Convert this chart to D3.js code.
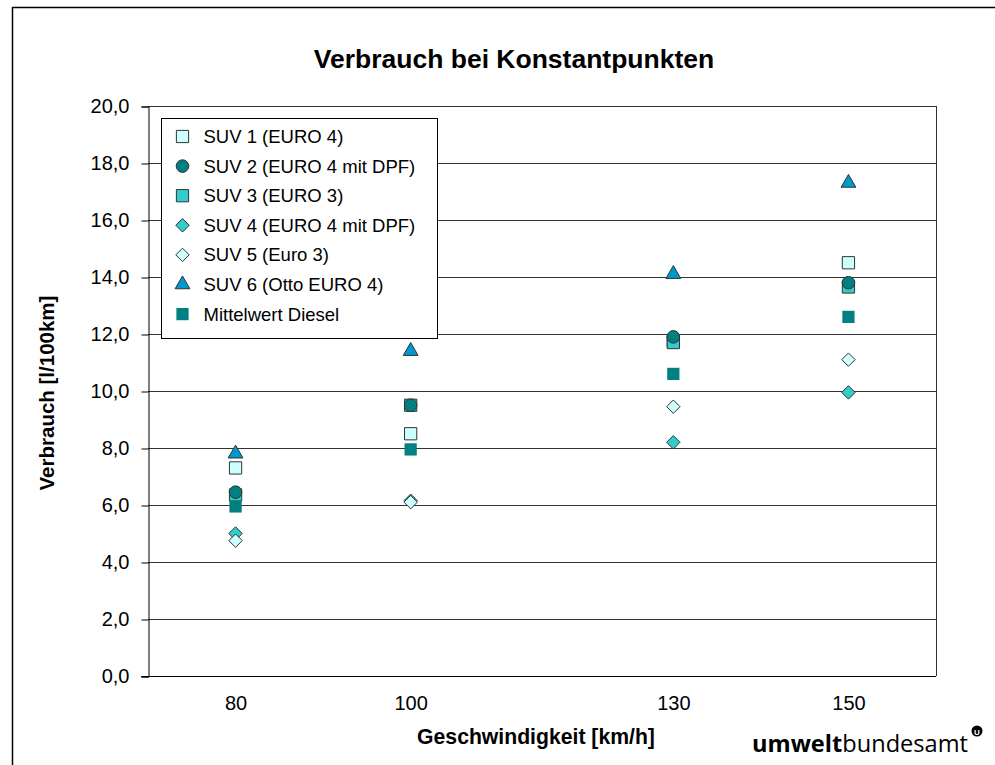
<!DOCTYPE html>
<html>
<head>
<meta charset="utf-8">
<script src="https://cdn.jsdelivr.net/npm/d3@7"></script>
<style>
  body { margin: 0; background: #fff; }
  svg { font-family: "Liberation Sans", Arial, sans-serif; }
</style>
</head>
<body>
<script>
// speeds (km/h) and consumption (l/100km) per vehicle
const speeds = [80, 100, 130, 150];
const seriesNames = ["SUV 1 (EURO 4)", "SUV 2 (EURO 4 mit DPF)", "SUV 3 (EURO 3)", "SUV 4 (EURO 4 mit DPF)", "SUV 5 (Euro 3)", "SUV 6 (Otto EURO 4)", "Mittelwert Diesel"];
const suv1 = [7.3, 8.5, 11.75, 14.5];
const suv2 = [6.45, 9.5, 11.9, 13.8];
const suv3 = [6.35, 9.5, 11.7, 13.65];
const suv4 = [5.0, 6.15, 8.2, 9.95];
const suv5 = [4.75, 6.1, 9.45, 11.1];
const suv6 = [7.8, 11.4, 14.1, 17.3];
const mittelwert = [5.95, 7.95, 10.6, 12.6];
const yTicks = [0, 2, 4, 6, 8, 10, 12, 14, 16, 18, 20];

const width = 995, height = 765;
const margin = {left: 148, right: 936, top: 106, bottom: 676};

const seriesStyle = [
    {values: suv1, shape: "square", fill: "#ccffff", stroke: "#333"},
    {values: suv2, shape: "circle", fill: "#008080", stroke: "#333"},
    {values: suv3, shape: "square", fill: "#33cccc", stroke: "#333"},
    {values: suv4, shape: "diamond", fill: "#33cccc", stroke: "#333"},
    {values: suv5, shape: "diamond", fill: "#ccffff", stroke: "#333"},
    {values: suv6, shape: "triangle", fill: "#0099cc", stroke: "#333"},
    {values: mittelwert, shape: "square", fill: "#008080", stroke: "none"}
];
// SUV 3 sits under the SUV 2 circles in the original
const drawOrder = [0, 2, 1, 3, 4, 5, 6];

const svg = d3.select("body").append("svg")
    .attr("width", width)
    .attr("height", height);

// outer frame (open to the right and bottom)
svg.append("path")
    .attr("d", `M12.5,${height} L12.5,7.5 L${width},7.5`)
    .attr("fill", "none")
    .attr("stroke", "#000")
    .attr("stroke-width", 1.5);

const xScale = d3.scaleLinear().domain([70, 160]).range([margin.left, margin.right]);
const yScale = d3.scaleLinear().domain([0, 20]).range([margin.bottom, margin.top]);

// gridlines
svg.append("g").selectAll("line")
    .data(yTicks.filter(d => d > 0))
    .join("line")
    .attr("x1", margin.left).attr("x2", margin.right)
    .attr("y1", d => Math.round(yScale(d)) + 0.5)
    .attr("y2", d => Math.round(yScale(d)) + 0.5)
    .attr("stroke", "#333");

// right border
svg.append("line")
    .attr("x1", margin.right + 0.5).attr("x2", margin.right + 0.5)
    .attr("y1", margin.top).attr("y2", margin.bottom)
    .attr("stroke", "#333");

const fmt = d => d3.format(".1f")(d).replace(".", ",");

const yAxis = d3.axisLeft(yScale).tickValues(yTicks).tickFormat(fmt).tickSize(7).tickPadding(12);
const yG = svg.append("g")
    .attr("transform", `translate(${margin.left + 0.5},0.5)`)
    .call(yAxis);
yG.select(".domain").attr("stroke", "#000");
yG.selectAll(".tick line").attr("stroke", "#000");
yG.selectAll("text").attr("font-size", 20).attr("fill", "#000")
    .attr("font-family", "Liberation Sans, Arial, sans-serif");

const xAxis = d3.axisBottom(xScale).tickValues(speeds).tickSize(0).tickPadding(19);
const xG = svg.append("g")
    .attr("transform", `translate(0,${margin.bottom + 0.5})`)
    .call(xAxis);
xG.select(".domain").remove();
xG.append("line")
    .attr("x1", margin.left - 7).attr("x2", margin.right)
    .attr("stroke", "#000");
xG.selectAll("text").attr("font-size", 20).attr("fill", "#000")
    .attr("font-family", "Liberation Sans, Arial, sans-serif");

// markers
const shapeFor = {
    square: d3.symbol().type(d3.symbolSquare).size(150),
    circle: d3.symbol().type(d3.symbolCircle).size(125),
    diamond: d3.symbol().type(d3.symbolDiamond2).size(115),
    triangle: d3.symbol().type(d3.symbolTriangle).size(95)
};

drawOrder.forEach((i) => {
    const s = seriesStyle[i];
    svg.append("g").selectAll("path")
        .data(s.values.map((v, j) => ({x: speeds[j], y: v})))
        .join("path")
        .attr("transform", d => `translate(${xScale(d.x)},${yScale(d.y)})`)
        .attr("d", shapeFor[s.shape]())
        .attr("fill", s.fill)
        .attr("stroke", s.stroke)
        .attr("stroke-width", 1);
});

// legend
const legend = svg.append("g").attr("transform", "translate(161.5,118.5)");
legend.append("rect")
    .attr("width", 276).attr("height", 220)
    .attr("fill", "#fff").attr("stroke", "#000");
seriesStyle.forEach((s, i) => {
    const y = 18 + i * 29.6;
    legend.append("path")
        .attr("transform", `translate(21,${y})`)
        .attr("d", shapeFor[s.shape]())
        .attr("fill", s.fill)
        .attr("stroke", s.stroke);
    legend.append("text")
        .attr("x", 42).attr("y", y + 6.5)
        .attr("font-size", 18.5)
        .text(seriesNames[i]);
});

// titles
svg.append("text")
    .attr("x", 514).attr("y", 68)
    .attr("text-anchor", "middle")
    .attr("font-size", 26.5).attr("font-weight", "bold")
    .text("Verbrauch bei Konstantpunkten");

svg.append("text")
    .attr("transform", "translate(54,393) rotate(-90)")
    .attr("text-anchor", "middle")
    .attr("font-size", 20.5).attr("font-weight", "bold")
    .text("Verbrauch [l/100km]");

svg.append("text")
    .attr("x", 536).attr("y", 744)
    .attr("text-anchor", "middle")
    .attr("font-size", 21.2).attr("font-weight", "bold")
    .text("Geschwindigkeit [km/h]");

// logo
const logo = svg.append("text")
    .attr("x", 752).attr("y", 752)
    .attr("font-family", "Open Sans, sans-serif")
    .attr("font-size", 23.6);
logo.append("tspan").attr("font-weight", "bold").text("umwelt");
logo.append("tspan").text("bundesamt");
svg.append("circle")
    .attr("cx", 977).attr("cy", 731).attr("r", 5.5)
    .attr("fill", "#000");
svg.append("text")
    .attr("x", 977).attr("y", 734.5)
    .attr("text-anchor", "middle")
    .attr("font-size", 8).attr("font-weight", "bold")
    .attr("fill", "#fff")
    .text("U");
</script>
</body>
</html>
